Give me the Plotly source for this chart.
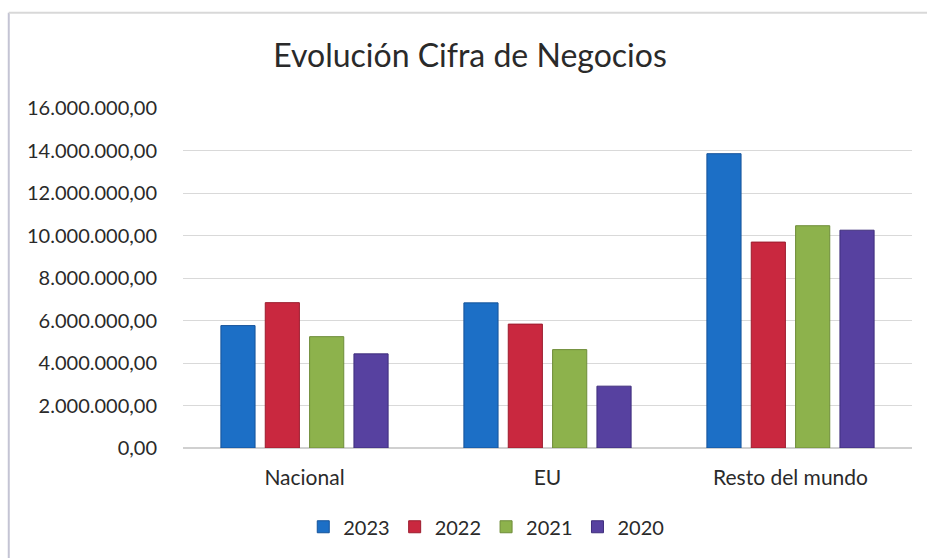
import plotly.graph_objects as go

categories = ["Nacional", "EU", "Resto del mundo"]
years = ["2023", "2022", "2021", "2020"]
v2023 = [5760000, 6830000, 13850000]
v2022 = [6840000, 5830000, 9690000]
v2021 = [5240000, 4630000, 10460000]
v2020 = [4430000, 2910000, 10250000]
y_ticks = [0, 2000000, 4000000, 6000000, 8000000, 10000000, 12000000, 14000000, 16000000]

series = [v2023, v2022, v2021, v2020]
fills = ["#1c6fc6", "#c9283f", "#8db24c", "#5741a0"]
edges = ["#15539a", "#9c1c2e", "#6e8c38", "#3f2e7c"]

fig = go.Figure()
for name, vals, fc, ec in zip(years, series, fills, edges):
    fig.add_trace(go.Bar(
        x=categories, y=vals, name=name,
        marker=dict(color=fc, line=dict(color=ec, width=1)),
    ))

font = "Lato, 'Open Sans', sans-serif"
fig.update_layout(
    width=927, height=558,
    paper_bgcolor="white", plot_bgcolor="white",
    separators=",.",
    font=dict(family=font, color="#2a2a2a", size=20),
    title=dict(text="Evolución Cifra de Negocios", x=0.507, xanchor="center",
               y=0.9, yanchor="middle", font=dict(size=32, color="#2a2a2a")),
    margin=dict(l=183, r=15, t=108, b=110, autoexpand=False),
    barmode="group", bargap=0.27, bargroupgap=0.23,
    showlegend=True,
    legend=dict(orientation="h", x=0.416, xanchor="center",
                yref="container", y=0.056, yanchor="middle",
                font=dict(size=20), traceorder="normal", itemwidth=30),
    xaxis=dict(showgrid=False, showline=False, ticks="", tickfont=dict(size=21),
               ticklabelstandoff=15, automargin=False),
    yaxis=dict(range=[0, 16000000], tickvals=y_ticks, tickformat=",.2f",
               gridcolor="#d9d9d9", zeroline=True, zerolinecolor="#d0d0d0",
               showline=False, tickfont=dict(size=20), ticklabelstandoff=25,
               automargin=False),
)
# chart frame: left and top edges only
fig.add_shape(type="line", xref="paper", yref="paper",
              x0=-0.239, x1=-0.239, y0=-0.35, y1=1.28,
              line=dict(color="#c4c4d4", width=2), layer="below")
fig.add_shape(type="line", xref="paper", yref="paper",
              x0=-0.239, x1=1.03, y0=1.28, y1=1.28,
              line=dict(color="#d8d8d8", width=2), layer="below")

fig.write_html("out.html", config={"displayModeBar": False},
               post_script="document.body.style.margin='0px';")
